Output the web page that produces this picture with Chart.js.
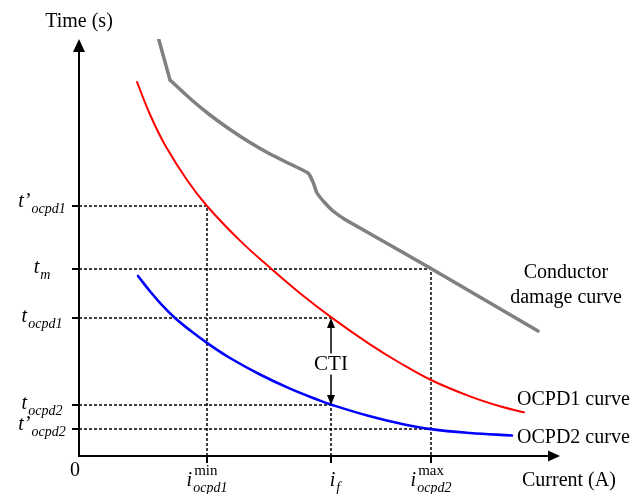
<!DOCTYPE html>
<html>
<head>
<meta charset="utf-8">
<title>OCPD coordination curves</title>
<script src="https://cdn.jsdelivr.net/npm/chart.js@4.4.1/dist/chart.umd.min.js"></script>
<style>
    html, body { margin: 0; padding: 0; background: #ffffff; }
    canvas { display: block; }
</style>
</head>
<body>
<canvas id="tccChart" width="633" height="494"></canvas>
<script>

/*
============================================================
Data (arbitrary current / time units)
============================================================
*/

const ocpd1Current = [58, 71, 86, 108, 128, 161, 193, 221, 252, 291, 321, 352, 391, 421, 445];
const ocpd1Time = [374, 341.5, 311, 276, 250, 215.4, 186.6, 162.8, 138.9, 111.6, 93, 76, 59.6, 49.7, 43.7];

const ocpd2Current = [59, 72, 84, 96, 111, 128, 151, 181, 211, 241, 252, 291, 321, 352, 391, 433];
const ocpd2Time = [180, 163.5, 149.8, 138, 125.7, 113.1, 98, 81.5, 67.4, 55.4, 51.4, 39.7, 32.5, 26.9, 23, 20.5];

// steep start of the damage curve, then the rest of it
const conductorStartCurrent = [78, 91];
const conductorStartTime = [423, 376];

const conductorCurrent = [91, 111, 131, 151, 171, 191, 211, 229, 234, 238, 246, 254, 266, 281, 352, 459];
const conductorTime = [376, 357.5, 341, 326.5, 313.5, 302, 292, 283, 274, 263, 253, 245, 236.5, 228, 187.5, 125];

const currentTicks = [128, 252, 352];
const currentTickNames = ["i", "i", "i"];
const currentTickSubs = ["ocpd1", "f", "ocpd2"];
const currentTickSups = ["min", "", "max"];

const timeTicks = [250, 187, 138, 51, 27];
const timeTickNames = ["t\u2019", "t", "t", "t", "t\u2019"];
const timeTickSubs = ["ocpd1", "m", "ocpd1", "ocpd2", "ocpd2"];

const axisMaxCurrent = 481;
const axisMaxTime = 417;

const SERIF = "\"Liberation Serif\", \"Times New Roman\", serif";

/*
============================================================
Helpers
============================================================
*/

function toPoints(xs, ys) {

    return xs.map((x, i) => ({ x, y: ys[i] }));

}

function curve(label, xs, ys, color, width, tension) {

    return {

        label,

        data: toPoints(xs, ys),

        borderColor: color,

        borderWidth: width,

        borderCapStyle: "round",

        borderJoinStyle: "round",

        pointRadius: 0,

        showLine: true,

        tension

    };

}

function guide(points) {

    return {

        data: points,

        borderColor: "#000000",

        borderWidth: 1.5,

        borderDash: [3, 2],

        pointRadius: 0,

        showLine: true,

        tension: 0

    };

}

function arrowHead(ctx, x, y, dx, dy, length, half) {

    ctx.beginPath();

    ctx.moveTo(x, y);

    ctx.lineTo(x - dx * length - dy * half, y - dy * length + dx * half);

    ctx.lineTo(x - dx * length + dy * half, y - dy * length - dx * half);

    ctx.closePath();

    ctx.fill();

}

function drawScriptLabel(ctx, cx, baseline, main, sub, sup) {

    ctx.font = "italic 20px " + SERIF;
    const mainW = ctx.measureText(main).width;

    ctx.font = "italic 14px " + SERIF;
    const subW = sub ? ctx.measureText(sub).width : 0;

    ctx.font = "15px " + SERIF;
    const supW = sup ? ctx.measureText(sup).width : 0;

    const total = mainW + 1 + Math.max(subW, supW);
    const left = cx - total / 2;

    ctx.textAlign = "left";

    ctx.font = "italic 20px " + SERIF;
    ctx.fillText(main, left, baseline);

    if (sub) {
        ctx.font = "italic 14px " + SERIF;
        ctx.fillText(sub, left + mainW + 1, baseline + 6);
    }

    if (sup) {
        ctx.font = "15px " + SERIF;
        ctx.fillText(sup, left + mainW + 2, baseline - 11);
    }

}

/*
============================================================
Axes, ticks and annotations plugin
============================================================
*/

const annotationPlugin = {

    id: "annotations",

    afterDraw(chart) {

        const ctx = chart.ctx;
        const xs = chart.scales.x;
        const ys = chart.scales.y;

        const x0 = xs.getPixelForValue(0);
        const y0 = ys.getPixelForValue(0);
        const xEnd = xs.getPixelForValue(axisMaxCurrent);
        const yEnd = ys.getPixelForValue(axisMaxTime);

        ctx.save();

        ctx.strokeStyle = "#000000";
        ctx.fillStyle = "#000000";
        ctx.lineWidth = 2;

        // axes
        ctx.beginPath();
        ctx.moveTo(x0, yEnd + 10);
        ctx.lineTo(x0, y0);
        ctx.lineTo(xEnd - 10, y0);
        ctx.stroke();

        arrowHead(ctx, x0, yEnd, 0, -1, 13, 6);
        arrowHead(ctx, xEnd, y0, 1, 0, 12, 5.5);

        // tick marks
        ctx.beginPath();
        currentTicks.forEach(v => {
            const px = xs.getPixelForValue(v);
            ctx.moveTo(px, y0);
            ctx.lineTo(px, y0 + 7);
        });
        timeTicks.forEach(v => {
            const py = ys.getPixelForValue(v);
            ctx.moveTo(x0 - 7, py);
            ctx.lineTo(x0, py);
        });
        ctx.stroke();

        // tick labels
        ctx.textBaseline = "alphabetic";

        currentTicks.forEach((v, i) => {
            drawScriptLabel(ctx, xs.getPixelForValue(v) + (currentTickSups[i] ? 0 : 4), y0 + 30,
                currentTickNames[i], currentTickSubs[i], currentTickSups[i]);
        });

        timeTicks.forEach((v, i) => {
            const prime = timeTickNames[i].length > 1;
            drawScriptLabel(ctx, 42, ys.getPixelForValue(v) + (prime ? 1 : 4),
                timeTickNames[i], timeTickSubs[i], "");
        });

        // axis titles
        ctx.font = "20px " + SERIF;
        ctx.textAlign = "center";
        ctx.fillText("Time (s)", x0, 27);
        ctx.fillText("0", x0 - 4, y0 + 20);

        ctx.textAlign = "left";
        ctx.fillText("Current (A)", 522, y0 + 30);

        // curve labels
        ctx.fillText("OCPD1 curve", 517, 405);
        ctx.fillText("OCPD2 curve", 517, 443);

        ctx.textAlign = "center";
        ctx.fillText("Conductor", 566, 278);
        ctx.fillText("damage curve", 566, 303);

        // CTI arrow between OCPD1 and OCPD2 at i_f
        const fx = xs.getPixelForValue(currentTicks[1]);
        const topY = ys.getPixelForValue(timeTicks[2]);
        const botY = ys.getPixelForValue(timeTicks[3]);
        const midY = (topY + botY) / 2;

        ctx.font = "21px " + SERIF;
        ctx.fillText("CTI", fx, midY + 8);

        ctx.lineWidth = 1.5;
        ctx.beginPath();
        ctx.moveTo(fx, midY - 8);
        ctx.lineTo(fx, topY + 6);
        ctx.moveTo(fx, midY + 13);
        ctx.lineTo(fx, botY - 6);
        ctx.stroke();

        arrowHead(ctx, fx, topY, 0, -1, 10, 4);
        arrowHead(ctx, fx, botY, 0, 1, 10, 4);

        ctx.restore();

    }

};

/*
============================================================
Create Chart
============================================================
*/

const canvas = document.getElementById("tccChart");

new Chart(canvas.getContext("2d"), {

    type: "scatter",

    data: {

        datasets: [

            curve("OCPD1 curve", ocpd1Current, ocpd1Time, "#ff0000", 2, 0.4),

            curve("OCPD2 curve", ocpd2Current, ocpd2Time, "#0000ff", 2.6, 0.4),

            curve("Conductor damage curve", conductorStartCurrent, conductorStartTime, "#808080", 3.5, 0),

            curve("Conductor damage curve", conductorCurrent, conductorTime, "#808080", 3.5, 0.15),

            guide([{ x: 0, y: timeTicks[0] }, { x: currentTicks[0], y: timeTicks[0] }, { x: currentTicks[0], y: 0 }]),

            guide([{ x: 0, y: timeTicks[1] }, { x: currentTicks[2], y: timeTicks[1] }, { x: currentTicks[2], y: 0 }]),

            guide([{ x: 0, y: timeTicks[2] }, { x: currentTicks[1], y: timeTicks[2] }]),

            guide([{ x: 0, y: timeTicks[3] }, { x: currentTicks[1], y: timeTicks[3] }, { x: currentTicks[1], y: 0 }]),

            guide([{ x: 0, y: timeTicks[4] }, { x: currentTicks[2], y: timeTicks[4] }])

        ]

    },

    options: {

        responsive: false,

        animation: false,

        devicePixelRatio: 1,

        layout: {

            padding: { left: 79, right: 73, top: 39, bottom: 38 }

        },

        plugins: {

            legend: { display: false },

            tooltip: { enabled: false }

        },

        scales: {

            x: {
                type: "linear",
                display: false,
                min: 0,
                max: axisMaxCurrent
            },

            y: {
                type: "linear",
                display: false,
                min: 0,
                max: axisMaxTime
            }

        }

    },

    plugins: [annotationPlugin]

});

</script>
</body>
</html>
